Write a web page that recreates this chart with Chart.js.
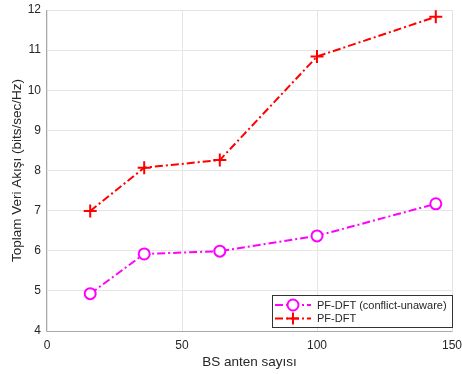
<!DOCTYPE html>
<html>
<head>
<meta charset="utf-8">
<script src="https://cdn.jsdelivr.net/npm/chart.js@4"></script>
<style>
  html, body { margin: 0; padding: 0; background: #fff; }
  #wrap { width: 462px; height: 374px; position: relative; }
</style>
</head>
<body>
<div id="wrap"><canvas id="chart"></canvas></div>
<script>
// anten sayıları (x)
const antennas = [16, 36, 64, 100, 144]
// PF-DFT (conflict-unaware)
const unawareVals = [4.93, 5.92, 5.99, 6.37, 7.17]
// PF-DFT
const dftVals = [6.99, 8.07, 8.26, 10.84, 11.83]

const seriesNames = ['PF-DFT (conflict-unaware)', 'PF-DFT']
const xTicks = [0, 50, 100, 150]
const yTicks = [4, 5, 6, 7, 8, 9, 10, 11, 12]

const FONT = '"Liberation Sans", Arial, sans-serif'
const DASH = [8, 3, 2, 3]

const toPts = vals => antennas.map((x, i) => ({ x, y: vals[i] }))

// çerçeve + legend, MATLAB stili
const framePlugin = {
  id: 'frame',
  beforeDatasetsDraw(chart) {
    const { ctx, chartArea: a } = chart
    ctx.save()
    ctx.lineWidth = 1
    ctx.strokeStyle = '#e3e3e3'
    ctx.beginPath()
    ctx.moveTo(a.left, a.top + 0.5); ctx.lineTo(a.right + 0.5, a.top + 0.5)
    ctx.lineTo(a.right + 0.5, a.bottom)
    ctx.stroke()
    ctx.strokeStyle = '#a8a8a8'
    ctx.beginPath()
    ctx.moveTo(a.left - 0.5, a.top); ctx.lineTo(a.left - 0.5, a.bottom + 0.5)
    ctx.lineTo(a.right + 0.5, a.bottom + 0.5)
    ctx.stroke()
    ctx.restore()
  },
  afterDraw(chart) {
    const { ctx, chartArea: a } = chart
    const w = 180, h = 32
    const x0 = a.right - w, y0 = a.bottom - 4 - h
    ctx.save()
    ctx.fillStyle = '#fff'
    ctx.fillRect(x0, y0, w, h)
    ctx.strokeStyle = '#333'
    ctx.lineWidth = 1
    ctx.strokeRect(x0 + 0.5, y0 + 0.5, w, h)
    chart.data.datasets.forEach((ds, i) => {
      const cy = y0 + 10 + i * 13.5
      ctx.strokeStyle = ds.borderColor
      ctx.lineWidth = 2
      ctx.setLineDash(DASH)
      ctx.beginPath()
      ctx.moveTo(x0 + 3, cy); ctx.lineTo(x0 + 39, cy)
      ctx.stroke()
      ctx.setLineDash([])
      const mx = x0 + 21
      if (ds.pointStyle === 'circle') {
        ctx.fillStyle = '#fff'
        ctx.beginPath(); ctx.arc(mx, cy, 5.5, 0, Math.PI * 2); ctx.fill(); ctx.stroke()
      } else {
        ctx.beginPath()
        ctx.moveTo(mx - 6, cy); ctx.lineTo(mx + 6, cy)
        ctx.moveTo(mx, cy - 6); ctx.lineTo(mx, cy + 6)
        ctx.stroke()
      }
      ctx.fillStyle = '#262626'
      ctx.font = '11px ' + FONT
      ctx.textBaseline = 'middle'
      ctx.fillText(ds.label, x0 + 45, cy + 0.5)
    })
    ctx.restore()
  },
}

new Chart(document.getElementById('chart'), {
  type: 'line',
  data: {
    datasets: [
      {
        label: seriesNames[0],
        data: toPts(unawareVals),
        borderColor: '#ff00ff',
        backgroundColor: '#ffffff',
        borderWidth: 2,
        borderDash: DASH,
        pointStyle: 'circle',
        pointRadius: 5.5,
        pointBorderWidth: 2,
        pointBorderColor: '#ff00ff',
        pointBackgroundColor: '#ffffff',
        tension: 0,
      },
      {
        label: seriesNames[1],
        data: toPts(dftVals),
        borderColor: '#ff0000',
        backgroundColor: '#ff0000',
        borderWidth: 2,
        borderDash: DASH,
        pointStyle: 'cross',
        pointRadius: 6.5,
        pointBorderWidth: 2,
        pointBorderColor: '#ff0000',
        tension: 0,
      },
    ],
  },
  options: {
    responsive: true,
    maintainAspectRatio: false,
    animation: false,
    layout: { padding: { top: 10, right: 10, left: 9, bottom: 0 } },
    plugins: { legend: { display: false }, tooltip: { enabled: false } },
    scales: {
      x: {
        type: 'linear',
        min: 0, max: 150,
        afterBuildTicks: s => { s.ticks = xTicks.map(v => ({ value: v })) },
        afterFit: s => { s.height = 43; s.paddingRight = 0; s.paddingLeft = 0 },
        grid: { color: '#e6e6e6', drawTicks: false },
        border: { display: false },
        ticks: { color: '#262626', font: { family: FONT, size: 12 }, padding: 7, maxRotation: 0 },
        title: { display: true, text: 'BS anten sayısı', color: '#262626', font: { family: FONT, size: 13.5 }, padding: { top: 1, bottom: 4 } },
      },
      y: {
        min: 4, max: 12,
        afterBuildTicks: s => { s.ticks = yTicks.map(v => ({ value: v })) },
        afterFit: s => { s.width = 38; s.paddingTop = 0; s.paddingBottom = 0 },
        grid: { color: '#e6e6e6', drawTicks: false },
        border: { display: false },
        ticks: { color: '#262626', font: { family: FONT, size: 12 }, padding: 6 },
        title: { display: true, text: 'Toplam Veri Akışı (bits/sec/Hz)', color: '#262626', font: { family: FONT, size: 13.5 }, padding: { top: 0, bottom: 0 } },
      },
    },
  },
  plugins: [framePlugin],
})
</script>
</body>
</html>
